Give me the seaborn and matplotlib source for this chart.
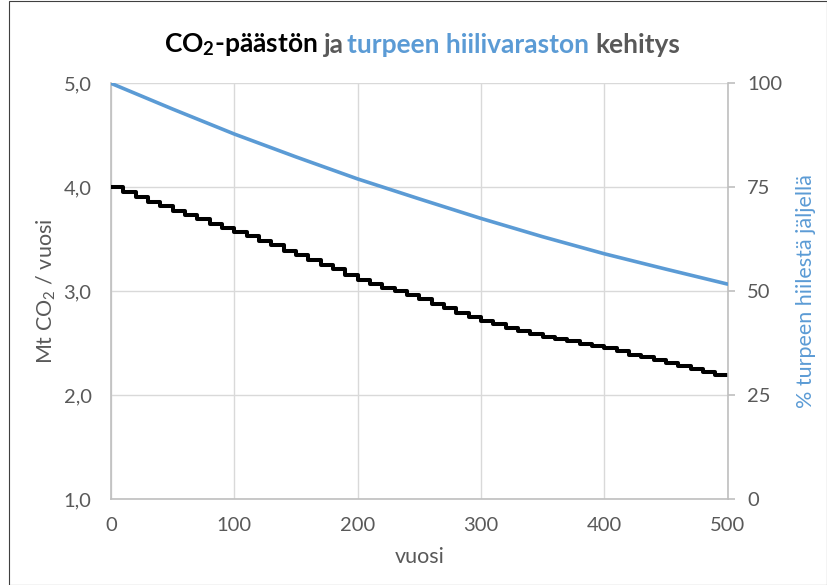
import matplotlib
matplotlib.use("Agg")

import matplotlib.pyplot as plt
import seaborn as sns
from matplotlib.patches import Rectangle

# ------------------------------------------------------------------------------
# Data
# ------------------------------------------------------------------------------
# CO2 emission, Mt / year, constant for each 10-year step (last value = end point)
emission_years = list(range(0, 501, 10))
emission_values = [
    4.00, 3.95, 3.91, 3.86, 3.82, 3.77, 3.73, 3.69, 3.65, 3.61,
    3.57, 3.53, 3.48, 3.44, 3.39, 3.35, 3.30, 3.25, 3.21, 3.16,
    3.11, 3.07, 3.03, 3.00, 2.96, 2.92, 2.88, 2.84, 2.79, 2.75,
    2.71, 2.68, 2.65, 2.62, 2.59, 2.56, 2.54, 2.52, 2.49, 2.47,
    2.45, 2.42, 2.39, 2.37, 2.34, 2.31, 2.28, 2.25, 2.22, 2.19,
    2.17,
]

# share of peat carbon stock remaining, %
stock_years = [0, 50, 100, 150, 200, 250, 300, 350, 400, 450, 500]
stock_values = [100.0, 93.8, 87.8, 82.3, 77.0, 72.2, 67.5, 63.1, 59.0, 55.3, 51.7]

x_ticks = [0, 100, 200, 300, 400, 500]
left_ticks = [1, 2, 3, 4, 5]
left_ticklabels = ["1,0", "2,0", "3,0", "4,0", "5,0"]
right_ticks = [0, 25, 50, 75, 100]

title_pieces = [
    ("CO$_\\mathbf{2}$-päästön", "#000000"),
    ("ja", "#595959"),
    ("turpeen hiilivaraston", "#5B9BD5"),
    ("kehitys", "#595959"),
]

# ------------------------------------------------------------------------------
# Style
# ------------------------------------------------------------------------------
_BLUE = "#5B9BD5"
_TEXT = "#595959"
_AXIS = "#BFBFBF"
_GRID = "#D9D9D9"
_TICK_FS = 14.5
_LABEL_FS = 15.5

sns.set_theme(style="white")
plt.rcParams.update({
    "font.family": ["Lato", "DejaVu Sans"],
    "mathtext.fontset": "custom",
    "mathtext.rm": "Lato",
    "mathtext.it": "Lato:italic",
    "mathtext.bf": "Lato:bold",
})

fig = plt.figure(figsize=(8.27, 5.85), dpi=100)
fig.patch.set_facecolor("white")
ax = fig.add_axes([0.1342, 0.147, 0.7455, 0.7106])
ax2 = ax.twinx()

sns.lineplot(x=emission_years, y=emission_values, ax=ax, color="black",
             linewidth=2.9, drawstyle="steps-post", zorder=3,
             solid_joinstyle="round", solid_capstyle="butt")
sns.lineplot(x=stock_years, y=stock_values, ax=ax2, color=_BLUE,
             linewidth=2.6, zorder=3)

ax.set_xlim(0, 500)
ax.set_ylim(1, 5)
ax2.set_ylim(0, 100)

ax.set_xticks(x_ticks)
ax.set_xticklabels([str(v) for v in x_ticks])
ax.set_yticks(left_ticks)
ax.set_yticklabels(left_ticklabels)
ax2.set_yticks(right_ticks)
ax2.set_yticklabels([str(v) for v in right_ticks])

ax.grid(True, color=_GRID, linewidth=1.0)
ax.set_axisbelow(True)

for name in ["top", "right"]:
    ax.spines[name].set_visible(False)
for name in ["left", "bottom"]:
    ax.spines[name].set_color(_AXIS)
    ax.spines[name].set_linewidth(1.2)
for name in ["top", "left", "bottom"]:
    ax2.spines[name].set_visible(False)
ax2.spines["right"].set_color(_AXIS)
ax2.spines["right"].set_linewidth(1.2)

ax.tick_params(axis="y", length=0, pad=14, labelsize=_TICK_FS, labelcolor=_TEXT)
ax.tick_params(axis="x", length=0, pad=13, labelsize=_TICK_FS, labelcolor=_TEXT)
ax2.tick_params(axis="y", length=5, width=1.2, color=_AXIS, direction="out",
                pad=9, labelsize=_TICK_FS, labelcolor=_TEXT)

ax.set_xlabel("vuosi", fontsize=_LABEL_FS, color=_TEXT, labelpad=9)
ax.set_ylabel("Mt CO$_2$ / vuosi", fontsize=_LABEL_FS, color=_TEXT, labelpad=4)
ax2.set_ylabel("% turpeen hiilestä jäljellä", fontsize=_LABEL_FS, color=_BLUE,
               labelpad=10)

# multi-coloured title, centred as a whole
renderer = fig.canvas.get_renderer()
title_y = 1 - 45 / 585
title_kw = dict(fontsize=19, fontweight="bold", va="center", ha="left")
probe_a = fig.text(0, 0, "x x", **title_kw)
probe_b = fig.text(0, 0, "xx", **title_kw)
space_w = (probe_a.get_window_extent(renderer).width
           - probe_b.get_window_extent(renderer).width)
probe_a.remove()
probe_b.remove()

texts = [fig.text(0, title_y, s, color=c, **title_kw) for s, c in title_pieces]
widths = [t.get_window_extent(renderer).width for t in texts]
# "j" hangs left of its origin, so the measured box overstates the advance
widths[1] -= 3
total = sum(widths) + space_w * (len(texts) - 1)
x_px = 422 - total / 2
for t, w in zip(texts, widths):
    t.set_x(x_px / 827)
    x_px += w + space_w

# chart border
fig.add_artist(Rectangle((8.5 / 827, 0.5 / 585), 818 / 827, 583.5 / 585,
                         transform=fig.transFigure, fill=False,
                         edgecolor="#404040", linewidth=0.8))

fig.savefig("out.png", dpi=100, facecolor="white")
plt.close(fig)
